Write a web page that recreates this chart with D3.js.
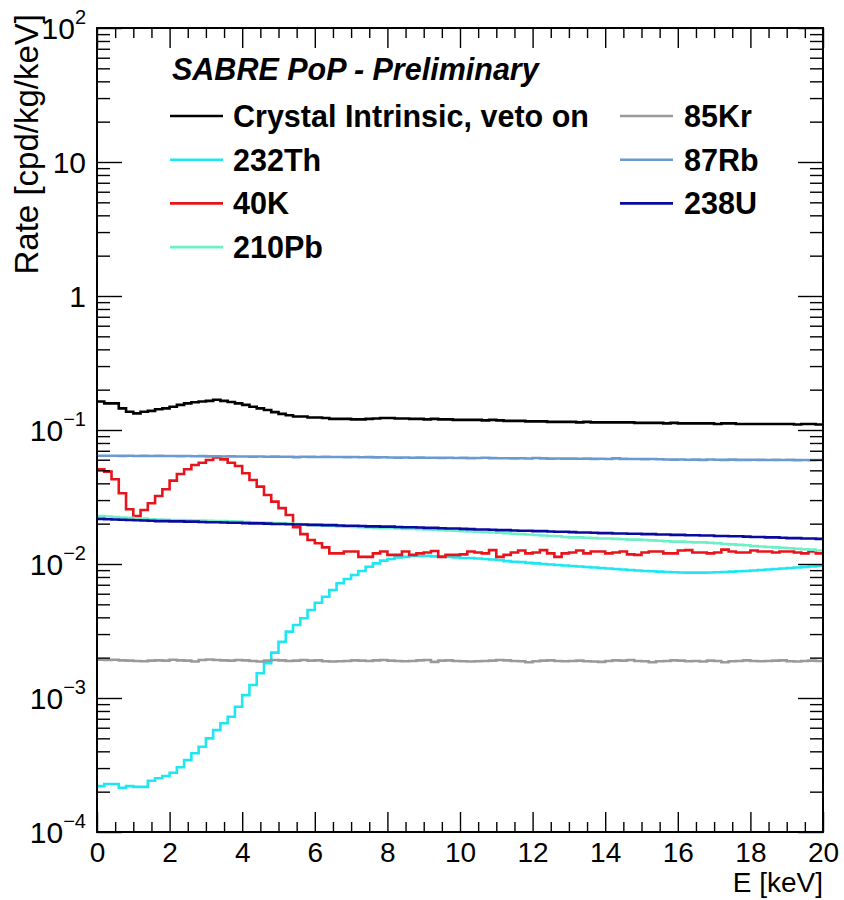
<!DOCTYPE html>
<html>
<head>
<meta charset="utf-8">
<script src="https://cdn.jsdelivr.net/npm/d3@7"></script>
<style>
  body { margin: 0; background: #fff; }
  text { font-family: "Liberation Sans", Arial, Helvetica, sans-serif; }
</style>
</head>
<body>
<div id="chart"></div>
<script>
// ---- data: histograms, 100 bins of 0.2 keV from 0 to 20 keV ----
const eMin = 0, eMax = 20, nBins = 100;

const crystal = [
  0.163,0.158,0.158,0.145,0.137,0.133,0.137,0.139,0.143,0.145,
  0.149,0.154,0.158,0.161,0.163,0.165,0.168,0.165,0.162,0.158,
  0.154,0.149,0.145,0.141,0.136,0.132,0.129,0.126,0.126,0.124,
  0.124,0.123,0.121,0.121,0.121,0.120,0.120,0.121,0.122,0.123,
  0.123,0.122,0.122,0.121,0.121,0.120,0.121,0.120,0.120,0.119,
  0.119,0.119,0.119,0.118,0.119,0.118,0.117,0.117,0.117,0.116,
  0.116,0.116,0.115,0.115,0.115,0.115,0.114,0.115,0.114,0.114,
  0.114,0.114,0.114,0.114,0.113,0.113,0.113,0.113,0.112,0.113,
  0.112,0.112,0.112,0.112,0.112,0.111,0.112,0.112,0.111,0.111,
  0.111,0.111,0.111,0.111,0.111,0.111,0.110,0.111,0.111,0.110
];
const th232 = [
  2.20e-4,2.28e-4,2.28e-4,2.14e-4,2.20e-4,2.17e-4,2.17e-4,2.41e-4,2.52e-4,2.62e-4,
  2.77e-4,3.04e-4,3.44e-4,3.87e-4,4.33e-4,5.00e-4,5.77e-4,6.48e-4,7.25e-4,8.61e-4,
  1.05e-3,1.25e-3,1.53e-3,1.82e-3,2.18e-3,2.63e-3,3.13e-3,3.51e-3,3.94e-3,4.54e-3,
  5.14e-3,5.70e-3,6.40e-3,7.18e-3,7.73e-3,8.28e-3,8.87e-3,9.55e-3,1.01e-2,1.06e-2,
  1.09e-2,1.12e-2,1.13e-2,1.15e-2,1.15e-2,1.15e-2,1.14e-2,1.14e-2,1.13e-2,1.12e-2,
  1.11e-2,1.11e-2,1.10e-2,1.09e-2,1.08e-2,1.07e-2,1.05e-2,1.04e-2,1.035e-2,1.02e-2,
  1.01e-2,1.00e-2,9.91e-3,9.83e-3,9.75e-3,9.66e-3,9.58e-3,9.50e-3,9.42e-3,9.34e-3,
  9.26e-3,9.18e-3,9.10e-3,9.02e-3,8.94e-3,8.87e-3,8.82e-3,8.77e-3,8.72e-3,8.68e-3,
  8.65e-3,8.62e-3,8.62e-3,8.62e-3,8.65e-3,8.68e-3,8.72e-3,8.77e-3,8.82e-3,8.87e-3,
  8.94e-3,9.02e-3,9.10e-3,9.18e-3,9.26e-3,9.34e-3,9.42e-3,9.50e-3,9.58e-3,9.66e-3
];
const k40 = [
  0.0509,0.0489,0.0429,0.0337,0.0256,0.0228,0.0253,0.0284,0.0322,0.0361,
  0.0419,0.0470,0.0509,0.0548,0.0570,0.0597,0.0625,0.0604,0.0570,0.0539,
  0.0475,0.0424,0.0378,0.0327,0.0292,0.0261,0.0232,0.0188,0.0167,0.0151,
  0.0143,0.0133,0.0120,0.0120,0.0124,0.0124,0.0113,0.0113,0.0120,0.0124,
  0.0117,0.0117,0.0124,0.0117,0.0120,0.0122,0.0125,0.0113,0.0117,0.0117,
  0.0118,0.0124,0.0122,0.0120,0.0127,0.0113,0.0117,0.0122,0.0126,0.0120,
  0.0122,0.0127,0.0120,0.0113,0.0120,0.0122,0.0126,0.0120,0.0124,0.0124,
  0.0120,0.0122,0.0124,0.0118,0.0117,0.0122,0.0124,0.0124,0.0120,0.0120,
  0.0126,0.0127,0.0122,0.0122,0.0120,0.0122,0.0128,0.0124,0.0122,0.0122,
  0.0126,0.0124,0.0124,0.0122,0.0124,0.0124,0.0122,0.0120,0.0124,0.0120
];
const pb210 = [
  0.0228,0.0226,0.0224,0.0222,0.0221,0.0219,0.0218,0.0216,0.0215,0.0214,
  0.0213,0.0213,0.0212,0.0211,0.0211,0.0210,0.0209,0.0209,0.0208,0.0207,
  0.0206,0.0205,0.0204,0.0203,0.0202,0.0201,0.0200,0.0199,0.0197,0.0196,
  0.0195,0.0193,0.0192,0.0191,0.0190,0.0189,0.0188,0.0187,0.0186,0.0185,
  0.0185,0.0184,0.0183,0.0183,0.0182,0.0181,0.0180,0.0179,0.0178,0.0177,
  0.0176,0.0175,0.0174,0.0173,0.0172,0.0171,0.0170,0.0168,0.0167,0.0166,
  0.01645,0.0163,0.0162,0.0161,0.0159,0.0158,0.0158,0.0157,0.0156,0.0155,
  0.0155,0.0154,0.0153,0.0152,0.0152,0.0151,0.0150,0.0149,0.0148,0.0147,
  0.0147,0.0146,0.0145,0.0145,0.0144,0.0143,0.0141,0.0140,0.0139,0.0138,
  0.0136,0.0135,0.0134,0.0133,0.0132,0.0131,0.0130,0.0129,0.0128,0.0126
];
const kr85 = [
  1.93e-3,1.92e-3,1.93e-3,1.91e-3,1.90e-3,1.89e-3,1.88e-3,1.90e-3,1.91e-3,1.90e-3,
  1.93e-3,1.91e-3,1.90e-3,1.87e-3,1.92e-3,1.94e-3,1.92e-3,1.91e-3,1.90e-3,1.92e-3,
  1.91e-3,1.89e-3,1.87e-3,1.90e-3,1.92e-3,1.91e-3,1.89e-3,1.90e-3,1.92e-3,1.90e-3,
  1.91e-3,1.88e-3,1.87e-3,1.88e-3,1.89e-3,1.91e-3,1.90e-3,1.89e-3,1.91e-3,1.92e-3,
  1.90e-3,1.89e-3,1.88e-3,1.89e-3,1.91e-3,1.92e-3,1.86e-3,1.90e-3,1.91e-3,1.89e-3,
  1.88e-3,1.87e-3,1.88e-3,1.89e-3,1.90e-3,1.92e-3,1.91e-3,1.89e-3,1.88e-3,1.85e-3,
  1.88e-3,1.90e-3,1.91e-3,1.89e-3,1.88e-3,1.89e-3,1.90e-3,1.88e-3,1.87e-3,1.86e-3,
  1.89e-3,1.91e-3,1.90e-3,1.92e-3,1.89e-3,1.88e-3,1.85e-3,1.88e-3,1.89e-3,1.91e-3,
  1.90e-3,1.88e-3,1.89e-3,1.87e-3,1.90e-3,1.89e-3,1.85e-3,1.88e-3,1.89e-3,1.91e-3,
  1.89e-3,1.88e-3,1.89e-3,1.90e-3,1.91e-3,1.88e-3,1.87e-3,1.89e-3,1.90e-3,1.89e-3
];
const rb87 = [
  0.0643,0.0642,0.0643,0.0641,0.0642,0.0640,0.0641,0.0640,0.0641,0.0639,
  0.0640,0.0638,0.0639,0.0637,0.0638,0.0636,0.0637,0.0635,0.0636,0.0634,
  0.0635,0.0633,0.0634,0.0632,0.0633,0.0631,0.0632,0.0627,0.0631,0.0630,
  0.0629,0.0630,0.0628,0.0629,0.0627,0.0628,0.0626,0.0627,0.0625,0.0626,
  0.0624,0.0622,0.0623,0.0621,0.0622,0.0620,0.0621,0.0619,0.0620,0.0618,
  0.0619,0.0617,0.0618,0.0621,0.0617,0.0615,0.0616,0.0614,0.0615,0.0613,
  0.0618,0.0614,0.0612,0.0613,0.0611,0.0612,0.0610,0.0611,0.0609,0.0610,
  0.0608,0.0614,0.0609,0.0607,0.0608,0.0606,0.0607,0.0605,0.0603,0.0601,
  0.0602,0.0600,0.0601,0.0599,0.0602,0.0600,0.0598,0.0601,0.0599,0.0598,
  0.0600,0.0598,0.0597,0.0599,0.0597,0.0598,0.0596,0.0597,0.0596,0.0597
];
const u238 = [
  0.0217,0.0216,0.0215,0.0214,0.0213,0.0212,0.0211,0.0210,0.0209,0.0209,
  0.0208,0.0208,0.0207,0.0207,0.0206,0.0205,0.0205,0.0204,0.0203,0.0203,
  0.0202,0.0201,0.0201,0.0200,0.0199,0.0199,0.0198,0.0197,0.0197,0.0196,
  0.0196,0.0195,0.0195,0.0194,0.0193,0.0193,0.0192,0.0191,0.0191,0.0190,
  0.0190,0.0189,0.0188,0.0188,0.0187,0.0186,0.0186,0.0185,0.0184,0.0184,
  0.0183,0.0182,0.0181,0.0181,0.0180,0.0179,0.0179,0.0178,0.0177,0.0177,
  0.0176,0.0176,0.0175,0.0174,0.0174,0.0173,0.0172,0.0172,0.0171,0.0170,
  0.0170,0.0169,0.0169,0.0168,0.0168,0.0167,0.0167,0.0166,0.0166,0.0165,
  0.0165,0.0164,0.0164,0.0163,0.0163,0.0162,0.0162,0.0161,0.0161,0.0160,
  0.0159,0.0159,0.0158,0.0158,0.0157,0.0156,0.0156,0.0155,0.0155,0.0154
];

// legend order / drawing order
const seriesNames  = ["Crystal Intrinsic, veto on", "232Th", "40K", "210Pb", "85Kr", "87Rb", "238U"];
const seriesValues = [crystal, th232, k40, pb210, kr85, rb87, u238];
const seriesColors = ["#000000", "#1ee6f2", "#e8141c", "#6fefc8", "#9a9a9a", "#6a9ad0", "#0a0aa0"];

const xMajor = d3.range(0, 20.01, 2);
const xMinor = d3.range(0, 20.01, 0.5).filter(v => v % 2 !== 0);
const yDecades = [-4, -3, -2, -1, 0, 1, 2];

/********************************************
 * SCALES
 ********************************************/
const width = 844, height = 900;
const plot = { left: 97, right: 823, top: 28, bottom: 832 };

const svg = d3.select("#chart").append("svg")
  .attr("width", width).attr("height", height);

const x = d3.scaleLinear().domain([eMin, eMax]).range([plot.left, plot.right]);
const y = d3.scaleLog().domain([1e-4, 1e2]).range([plot.bottom, plot.top]);

const yMinor = [];
yDecades.slice(0, -1).forEach(e => {
  for (let m = 2; m <= 9; m++) yMinor.push(m * Math.pow(10, e));
});

/********************************************
 * HISTOGRAMS
 ********************************************/
const binW = (eMax - eMin) / nBins;
const line = d3.line()
  .x(d => x(d[0]))
  .y(d => y(d[1]))
  .curve(d3.curveStepAfter);

const gHist = svg.append("g");
seriesValues.forEach((vals, k) => {
  const pts = vals.map((v, i) => [eMin + i * binW, v]);
  pts.push([eMax, vals[vals.length - 1]]);
  gHist.append("path")
    .attr("d", line(pts))
    .attr("fill", "none")
    .attr("stroke", seriesColors[k])
    .attr("stroke-width", 2.6);
});

/********************************************
 * AXES (ticks on all four sides, ROOT style)
 ********************************************/
function ticksOnly(axis, vals, size) {
  return axis.tickValues(vals).tickSize(size).tickFormat("");
}
function clean(g) {
  g.select(".domain").remove();
  g.selectAll(".tick line").attr("stroke", "#000").attr("stroke-width", 1.4);
}

// bottom
svg.append("g").attr("transform", `translate(0,${plot.bottom})`)
  .call(d3.axisBottom(x).tickValues(xMajor).tickSize(-20).tickPadding(10).tickFormat(d3.format("d")))
  .call(clean)
  .selectAll("text").attr("font-size", 28).attr("fill", "#000")
  .attr("font-family", "Liberation Sans, Arial, sans-serif");
svg.append("g").attr("transform", `translate(0,${plot.bottom})`)
  .call(ticksOnly(d3.axisBottom(x), xMinor, -10)).call(clean);
// top
svg.append("g").attr("transform", `translate(0,${plot.top})`)
  .call(ticksOnly(d3.axisTop(x), xMajor, -20)).call(clean);
svg.append("g").attr("transform", `translate(0,${plot.top})`)
  .call(ticksOnly(d3.axisTop(x), xMinor, -10)).call(clean);

// left
const yAxisG = svg.append("g").attr("transform", `translate(${plot.left},0)`)
  .call(d3.axisLeft(y).tickValues(yDecades.map(e => Math.pow(10, e))).tickSize(-25).tickPadding(11).tickFormat(""))
  .call(clean);
svg.append("g").attr("transform", `translate(${plot.left},0)`)
  .call(ticksOnly(d3.axisLeft(y), yMinor, -13)).call(clean);
// right
svg.append("g").attr("transform", `translate(${plot.right},0)`)
  .call(ticksOnly(d3.axisRight(y), yDecades.map(e => Math.pow(10, e)), -25)).call(clean);
svg.append("g").attr("transform", `translate(${plot.right},0)`)
  .call(ticksOnly(d3.axisRight(y), yMinor, -13)).call(clean);

// y labels with superscript exponents
yAxisG.selectAll(".tick").each(function(d) {
  const e = Math.round(Math.log10(d));
  const t = d3.select(this).select("text")
    .attr("font-size", 30).attr("fill", "#000").attr("dy", "0.36em")
    .attr("font-family", "Liberation Sans, Arial, sans-serif");
  if (e === 0) t.text("1");
  else if (e === 1) t.text("10");
  else {
    t.append("tspan").text("10");
    t.append("tspan").attr("font-size", 20).attr("dy", "-0.75em")
      .text(e < 0 ? "\u2212" + (-e) : String(e));
  }
});

// frame
svg.append("rect")
  .attr("x", plot.left).attr("y", plot.top)
  .attr("width", plot.right - plot.left).attr("height", plot.bottom - plot.top)
  .attr("fill", "none").attr("stroke", "#000").attr("stroke-width", 2);

// axis titles
svg.append("text")
  .attr("x", plot.right).attr("y", 892)
  .attr("text-anchor", "end").attr("font-size", 28)
  .text("E [keV]");
svg.append("text")
  .attr("transform", `translate(38,14) rotate(-90)`)
  .attr("text-anchor", "end").attr("font-size", 33)
  .text("Rate [cpd/kg/keV]");

/********************************************
 * LEGEND
 ********************************************/
svg.append("text")
  .attr("x", 172).attr("y", 80)
  .attr("font-size", 30.5).attr("font-weight", "bold").attr("font-style", "italic")
  .text("SABRE PoP - Preliminary");

const legendCols = [
  { lineX: 170, textX: 233, items: [0, 1, 2, 3] },
  { lineX: 620, textX: 684, items: [4, 5, 6] }
];
const rowY0 = 116, rowStep = 43.7;
legendCols.forEach(col => {
  col.items.forEach((k, r) => {
    const yy = rowY0 + r * rowStep;
    svg.append("line")
      .attr("x1", col.lineX).attr("x2", col.lineX + 53)
      .attr("y1", yy).attr("y2", yy)
      .attr("stroke", seriesColors[k]).attr("stroke-width", 2.6);
    svg.append("text")
      .attr("x", col.textX).attr("y", yy).attr("dy", "0.36em")
      .attr("font-size", 30.5).attr("font-weight", "bold")
      .text(seriesNames[k]);
  });
});
</script>
</body>
</html>
